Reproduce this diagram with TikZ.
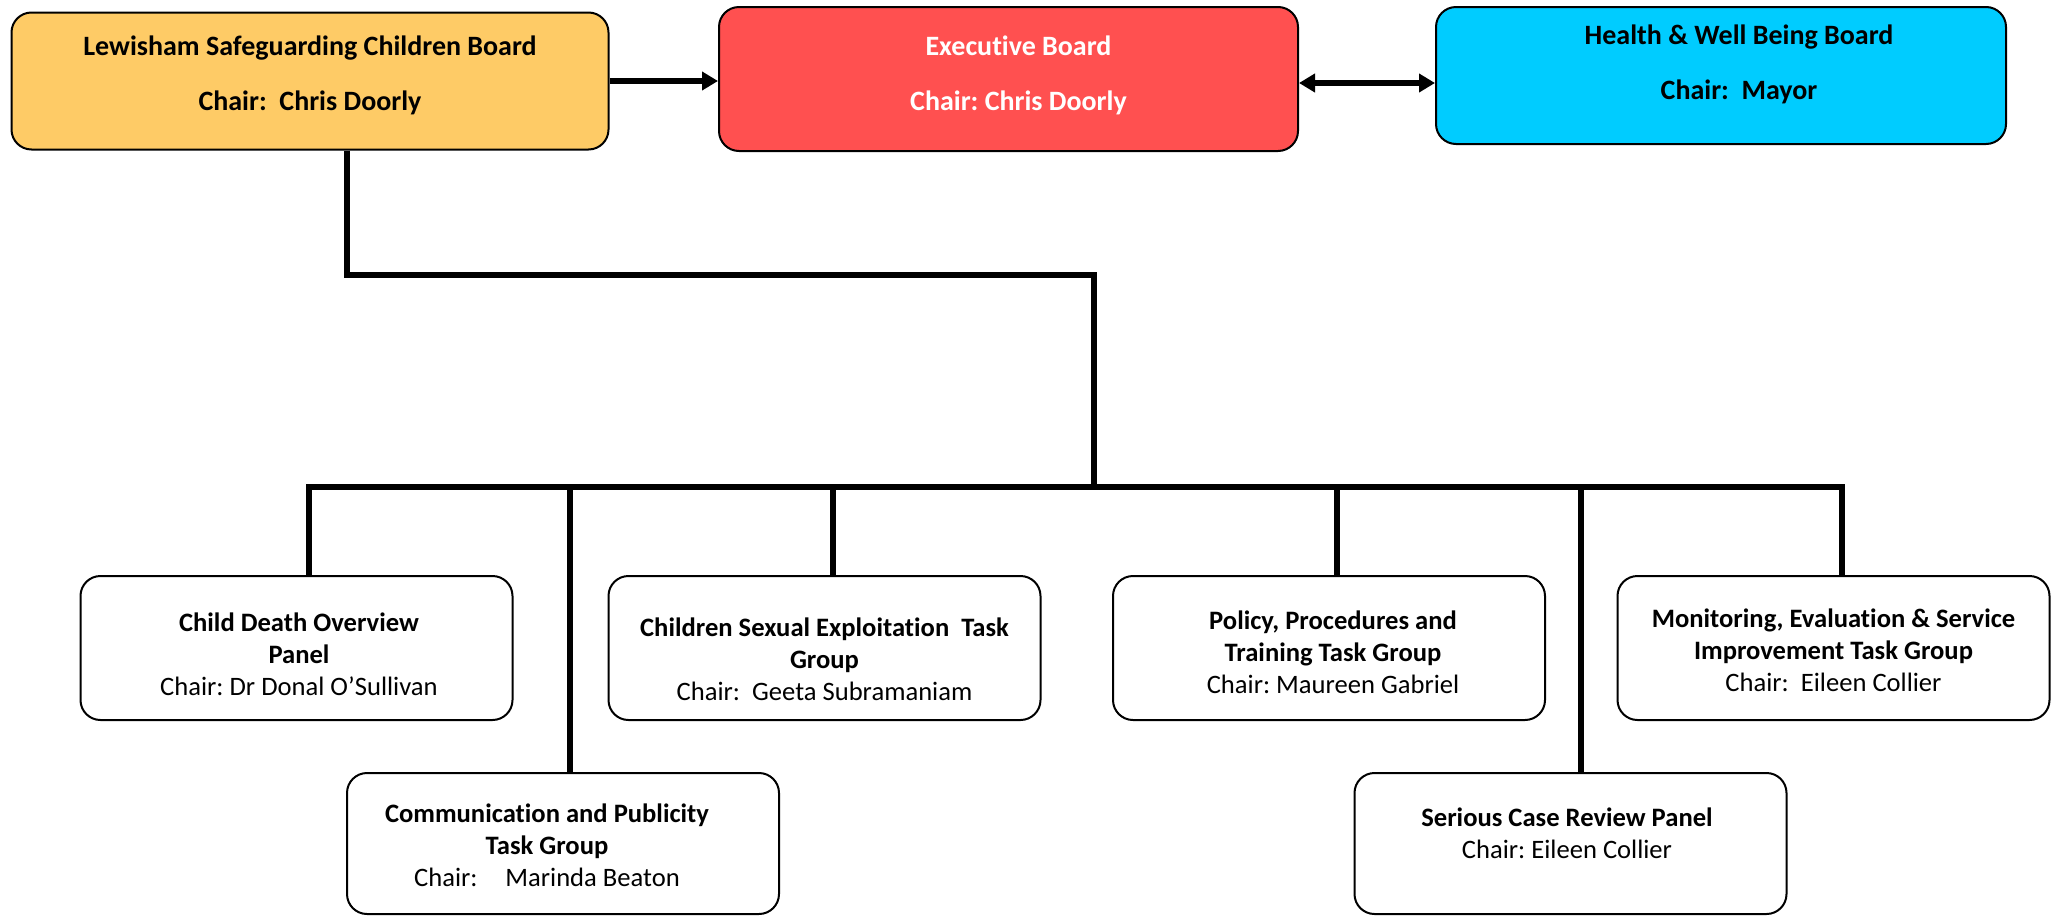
\documentclass[tikz,border=0pt]{standalone}
\usepackage{fontspec}
\setmainfont{Carlito}[Ligatures=NoCommon]
\usetikzlibrary{arrows.meta}
\definecolor{lscbgold}{HTML}{FECB66}
\definecolor{execred}{HTML}{FF5050}
\definecolor{hwbcyan}{HTML}{00CCFF}
\frenchspacing

\begin{document}
\begin{tikzpicture}[x=0.5pt, y=-0.5pt,
    box/.style={draw, line width=1pt, rounded corners=10pt,
      minimum width=216pt, minimum height=72pt},
    topbox/.style={box, minimum height=68.5pt},
    toptxt/.style={align=center, font=\bfseries\fontsize{14pt}{17pt}\selectfont},
    lowtxt/.style={align=center, font=\fontsize{13.3pt}{16pt}\selectfont},
    conn/.style={line width=2.75pt},
    tip/.style={-{Triangle[length=8pt,width=9pt]}}]
  \useasboundingbox (0,0) rectangle (2055,916);

  % boards
  \node[topbox, fill=lscbgold, minimum width=298.5pt,
    label={[toptxt, yshift=3pt]center:{Lewisham Safeguarding Children Board\\[10.5pt]Chair:~~Chris Doorly}}]
    (lscb) at (310,81) {};
  \node[topbox, fill=execred, minimum width=289.5pt, minimum height=72pt,
    label={[toptxt, text=white, xshift=5pt, yshift=2pt]center:{Executive Board\\[10.5pt]Chair: Chris Doorly}}]
    (exec) at (1008.5,79) {};
  \node[topbox, fill=hwbcyan, minimum width=285pt,
    label={[toptxt, xshift=9pt, yshift=5.5pt]center:{Health \& Well Being Board\\[10.5pt]Chair:~~Mayor}}]
    (hwb) at (1721,75.5) {};

  % task groups
  \node[box, label={[lowtxt, xshift=1.25pt, yshift=-3pt]center:{\textbf{Child Death Overview}\\\textbf{Panel}\\Chair: Dr Donal O'Sullivan}}]
    (cdop) at (296.5,648) {};
  \node[box, label={[lowtxt, yshift=-5.75pt]center:{\textbf{Children Sexual Exploitation~~Task}\\\textbf{Group}\\Chair:~~Geeta Subramaniam}}]
    (cse) at (824.5,648) {};
  \node[box, label={[lowtxt, xshift=2pt, yshift=-2.25pt]center:{\textbf{Policy, Procedures and}\\\textbf{Training Task Group}\\Chair: Maureen Gabriel}}]
    (ppt) at (1329,648) {};
  \node[box, label={[lowtxt, yshift=-1.25pt]center:{\textbf{Monitoring, Evaluation \& Service}\\\textbf{Improvement Task Group}\\Chair:~~Eileen Collier}}]
    (mes) at (1833.5,648) {};
  \node[box, minimum height=70.5pt, label={[lowtxt, xshift=-8pt, yshift=-0.75pt]center:{\textbf{Communication and Publicity}\\\textbf{Task Group}\\Chair:\hspace{1.05em}Marinda Beaton}}]
    (comm) at (563,843.5) {};
  \node[box, minimum height=70.5pt, label={[lowtxt, xshift=-1.75pt, yshift=5.25pt]center:{\textbf{Serious Case Review Panel}\\Chair: Eileen Collier}}]
    (scr) at (1570.5,843.5) {};

  % links between boards
  \draw[conn, tip] (lscb.east) -- (lscb.east -| exec.west);
  \draw[conn, {Triangle[length=8pt,width=9pt]}-{Triangle[length=8pt,width=9pt]}]
    ([yshift=-2pt]exec.east) -- ([yshift=-2pt]exec.east -| hwb.west);

  % tree down to the groups
  \coordinate (elbow) at (1094,275);
  \coordinate (hub) at (1094,487);
  \draw[conn] ([xshift=18.5pt]lscb.south) |- (elbow) -- (hub);
  \draw[line width=3pt, line cap=rect] ([xshift=6.25pt]cdop.north |- hub) -- ([xshift=4.25pt]mes.north |- hub);
  \foreach \b/\dx in {cdop/6.25pt, comm/3.5pt, cse/4.25pt, ppt/4pt, scr/5.25pt, mes/4.25pt}
    \draw[conn] ([xshift=\dx]\b.north) -- ([xshift=\dx]\b.north |- hub);
\end{tikzpicture}
\end{document}
